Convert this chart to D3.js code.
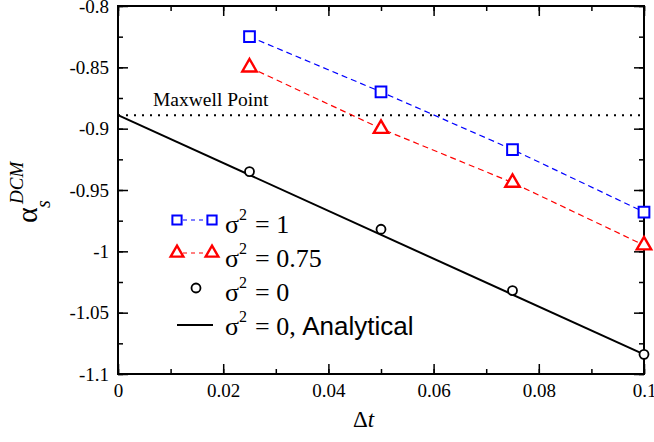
<!DOCTYPE html>
<html>
<head>
<meta charset="utf-8">
<script src="https://cdn.jsdelivr.net/npm/d3@7"></script>
<style>
  html, body { margin: 0; padding: 0; background: #fff; }
  svg { display: block; }
</style>
</head>
<body>
<svg id="chart" width="654" height="442"></svg>
<script>
// ---- data ----
const dtValues = [0.025, 0.05, 0.075, 0.1];
const sigma1 = [-0.825, -0.870, -0.917, -0.968];
const sigma075 = [-0.850, -0.900, -0.944, -0.995];
const sigma0 = [-0.935, -0.982, -1.032, -1.084];
const analyticalX = [0, 0.1];
const analyticalY = [-0.889, -1.084];
const maxwellValue = -0.889;
const xTickValues = [0, 0.02, 0.04, 0.06, 0.08, 0.1];
const xTickLabels = ["0", "0.02", "0.04", "0.06", "0.08", "0.1"];
const yTickValues = [-1.1, -1.05, -1.0, -0.95, -0.9, -0.85, -0.8];
const yTickLabels = ["-1.1", "-1.05", "-1", "-0.95", "-0.9", "-0.85", "-0.8"];
const legendLabels = ["1", "0.75", "0", "0, "];

// ---- layout ----
const svg = d3.select("#chart");
const L = 118, R = 644, T = 6, B = 374;
const x = d3.scaleLinear().domain([0, 0.1]).range([L, R]);
const y = d3.scaleLinear().domain([-1.1, -0.8]).range([B, T]);
const serif = "'Liberation Serif', 'Times New Roman', serif";
const sans = "'Liberation Sans', Arial, sans-serif";

const xMinor = d3.range(0, 0.1001, 0.01);
const yMinor = d3.range(-1.1, -0.7999, 0.025);

function styleAxis(g) {
  g.select(".domain").remove();
  g.attr("font-family", null);
  g.selectAll(".tick line").attr("stroke", "#000").attr("stroke-width", 1.5);
}

// minor ticks (inward)
svg.append("g").attr("transform", `translate(0,${B})`)
  .call(d3.axisBottom(x).tickValues(xMinor).tickSize(-5).tickFormat(""))
  .call(styleAxis);
svg.append("g").attr("transform", `translate(0,${T})`)
  .call(d3.axisTop(x).tickValues(xMinor).tickSize(-5).tickFormat(""))
  .call(styleAxis);
svg.append("g").attr("transform", `translate(${L},0)`)
  .call(d3.axisLeft(y).tickValues(yMinor).tickSize(-5).tickFormat(""))
  .call(styleAxis);
svg.append("g").attr("transform", `translate(${R},0)`)
  .call(d3.axisRight(y).tickValues(yMinor).tickSize(-5).tickFormat(""))
  .call(styleAxis);

// major ticks with labels
const xAxis = svg.append("g").attr("transform", `translate(0,${B})`)
  .call(d3.axisBottom(x).tickValues(xTickValues).tickSize(-10).tickPadding(10)
    .tickFormat((d, i) => xTickLabels[i]))
  .call(styleAxis);
xAxis.selectAll("text").style("font-family", serif).style("font-size", "19px").attr("fill", "#000");

svg.append("g").attr("transform", `translate(0,${T})`)
  .call(d3.axisTop(x).tickValues(xTickValues).tickSize(-10).tickFormat(""))
  .call(styleAxis);

const yAxis = svg.append("g").attr("transform", `translate(${L},0)`)
  .call(d3.axisLeft(y).tickValues(yTickValues).tickSize(-10).tickPadding(9)
    .tickFormat((d, i) => yTickLabels[i]))
  .call(styleAxis);
yAxis.selectAll("text").style("font-family", serif).style("font-size", "19px").attr("fill", "#000");

svg.append("g").attr("transform", `translate(${R},0)`)
  .call(d3.axisRight(y).tickValues(yTickValues).tickSize(-10).tickFormat(""))
  .call(styleAxis);

// frame
svg.append("rect").attr("x", L).attr("y", T).attr("width", R - L).attr("height", B - T)
  .attr("fill", "none").attr("stroke", "#000").attr("stroke-width", 2);

// Maxwell line
svg.append("line")
  .attr("x1", x(0)).attr("x2", x(0.1))
  .attr("y1", y(maxwellValue)).attr("y2", y(maxwellValue))
  .attr("stroke", "#000").attr("stroke-width", 2).attr("stroke-dasharray", "2,6");
svg.append("text").attr("x", 153).attr("y", 106)
  .style("font-family", serif).style("font-size", "19.5px").text("Maxwell Point");

// lines
const line = d3.line().x(d => x(d[0])).y(d => y(d[1]));
svg.append("path").datum(analyticalX.map((v, i) => [v, analyticalY[i]]))
  .attr("d", line).attr("fill", "none").attr("stroke", "#000").attr("stroke-width", 2);
svg.append("path").datum(dtValues.map((v, i) => [v, sigma1[i]]))
  .attr("d", line).attr("fill", "none").attr("stroke", "#0000ff").attr("stroke-width", 1.2)
  .attr("stroke-dasharray", "6,4");
svg.append("path").datum(dtValues.map((v, i) => [v, sigma075[i]]))
  .attr("d", line).attr("fill", "none").attr("stroke", "#ff0000").attr("stroke-width", 1.2)
  .attr("stroke-dasharray", "6,4");

// markers
const sq = d3.symbol().type(d3.symbolSquare).size(115);
const tri = d3.symbol().type(d3.symbolTriangle).size(90);
svg.append("g").selectAll("path").data(dtValues.map((v, i) => [v, sigma1[i]])).join("path")
  .attr("d", sq).attr("transform", d => `translate(${x(d[0])},${y(d[1])})`)
  .attr("fill", "#fff").attr("stroke", "#0000ff").attr("stroke-width", 2);
svg.append("g").selectAll("path").data(dtValues.map((v, i) => [v, sigma075[i]])).join("path")
  .attr("d", tri).attr("transform", d => `translate(${x(d[0])},${y(d[1])})`)
  .attr("fill", "#fff").attr("stroke", "#ff0000").attr("stroke-width", 2.4);
svg.append("g").selectAll("circle").data(dtValues.map((v, i) => [v, sigma0[i]])).join("circle")
  .attr("cx", d => x(d[0])).attr("cy", d => y(d[1])).attr("r", 4.5)
  .attr("fill", "#fff").attr("stroke", "#000").attr("stroke-width", 1.8);

// legend
const lg = svg.append("g");
const rowY = [233, 267, 301, 335];
const markY = [220, 253, 288, 325];
// row 1
lg.append("line").attr("x1", 177).attr("x2", 212).attr("y1", markY[0]).attr("y2", markY[0])
  .attr("stroke", "#0000ff").attr("stroke-width", 1.2).attr("stroke-dasharray", "4,4").attr("stroke-dashoffset", -6);
[177, 212].forEach(cx => lg.append("path").attr("d", d3.symbol().type(d3.symbolSquare).size(85))
  .attr("transform", `translate(${cx},${markY[0]})`).attr("fill", "#fff").attr("stroke", "#0000ff").attr("stroke-width", 2));
// row 2
lg.append("line").attr("x1", 177).attr("x2", 212).attr("y1", markY[1]).attr("y2", markY[1])
  .attr("stroke", "#ff0000").attr("stroke-width", 1.2).attr("stroke-dasharray", "4,4").attr("stroke-dashoffset", -6);
[177, 212].forEach(cx => lg.append("path").attr("d", d3.symbol().type(d3.symbolTriangle).size(70))
  .attr("transform", `translate(${cx},${markY[1]})`).attr("fill", "#fff").attr("stroke", "#ff0000").attr("stroke-width", 2.4));
// row 3
lg.append("circle").attr("cx", 196).attr("cy", markY[2]).attr("r", 4.5)
  .attr("fill", "#fff").attr("stroke", "#000").attr("stroke-width", 1.8);
// row 4
lg.append("line").attr("x1", 177).attr("x2", 213).attr("y1", markY[3]).attr("y2", markY[3])
  .attr("stroke", "#000").attr("stroke-width", 2);

legendLabels.forEach((lab, i) => {
  const t = lg.append("text").attr("x", 225).attr("y", rowY[i])
    .style("font-family", serif).style("font-size", "26px").attr("fill", "#000");
  t.append("tspan").text("σ");
  t.append("tspan").attr("x", 239).attr("dy", -13).style("font-size", "16px").text("2");
  t.append("tspan").attr("x", 255).attr("dy", 13).text("= " + lab);
  if (i === 3) {
    t.append("tspan").style("font-family", sans).text("Analytical");
  }
});

// axis titles
const xt = svg.append("text").attr("x", 353).attr("y", 427)
  .style("font-family", serif).style("font-size", "23px").attr("fill", "#000");
xt.append("tspan").text("Δ");
xt.append("tspan").style("font-style", "italic").text("t");

const yt = svg.append("g").attr("transform", "translate(37,223) rotate(-90)");
yt.append("text").attr("x", 0).attr("y", 0)
  .style("font-family", serif).style("font-size", "30px").text("α");
yt.append("text").attr("x", 15).attr("y", 13)
  .style("font-family", serif).style("font-style", "italic").style("font-size", "20px").text("s");
yt.append("text").attr("x", 19).attr("y", -14)
  .style("font-family", serif).style("font-style", "italic").style("font-size", "19px").text("DCM");
</script>
</body>
</html>
